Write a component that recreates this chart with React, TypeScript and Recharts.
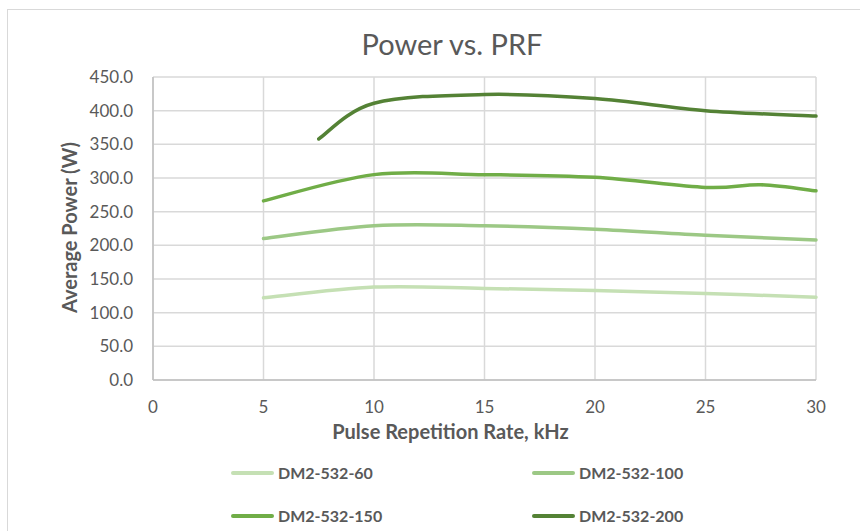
import { LineChart, Line, XAxis, YAxis, CartesianGrid, Legend } from "recharts";

// kHz values where readings were taken
const prf = [5, 7.5, 10, 15, 20, 25, 27.5, 30];

// average power in W, null where a model has no reading
const dm60 = [122, null, 138, 136, 133, 128.5, null, 123];
const dm100 = [210, null, 229, 229, 224, 215, null, 208];
const dm150 = [266, null, 305, 305, 301, 286, 290, 281];
const dm200 = [null, 358, 411, 424, 418, 400, null, 392];

const seriesNames = ["DM2-532-60", "DM2-532-100", "DM2-532-150", "DM2-532-200"];
const seriesColors = ["#c5e0b4", "#9cc885", "#70ad47", "#548235"];

const xTicks = [0, 5, 10, 15, 20, 25, 30];
const yTicks = [0, 50, 100, 150, 200, 250, 300, 350, 400, 450];

const chartData = prf.map((x, i) => ({
  prf: x,
  [seriesNames[0]]: dm60[i],
  [seriesNames[1]]: dm100[i],
  [seriesNames[2]]: dm150[i],
  [seriesNames[3]]: dm200[i],
}));

const FONT = "Lato, 'Open Sans', sans-serif";
const TEXT = "#595959";

// spreadsheet-style smoothed line (catmull-rom through every point)
function smoothCurve(context: any) {
  let pts: number[][] = [];
  return {
    areaStart() {},
    areaEnd() {},
    lineStart() {
      pts = [];
    },
    point(x: number, y: number) {
      pts.push([+x, +y]);
    },
    lineEnd() {
      const n = pts.length;
      if (!n) return;
      context.moveTo(pts[0][0], pts[0][1]);
      for (let i = 0; i < n - 1; i++) {
        const p0 = pts[Math.max(i - 1, 0)];
        const p1 = pts[i];
        const p2 = pts[i + 1];
        const p3 = pts[Math.min(i + 2, n - 1)];
        context.bezierCurveTo(
          p1[0] + (p2[0] - p0[0]) / 6,
          p1[1] + (p2[1] - p0[1]) / 6,
          p2[0] - (p3[0] - p1[0]) / 6,
          p2[1] - (p3[1] - p1[1]) / 6,
          p2[0],
          p2[1]
        );
      }
    },
  };
}

function XTitle(props: any) {
  const vb = props.viewBox || {};
  return (
    <text
      x={vb.x + vb.width / 2 - 34}
      y={vb.y + 59}
      textAnchor="middle"
      fill={TEXT}
      fontSize={20}
      fontWeight={700}
      fontFamily={FONT}
    >
      Pulse Repetition Rate, kHz
    </text>
  );
}

function YTitle(props: any) {
  const vb = props.viewBox || {};
  const cx = 77;
  const cy = vb.y + vb.height / 2 - 1;
  return (
    <text
      x={cx}
      y={cy}
      transform={`rotate(-90 ${cx} ${cy})`}
      textAnchor="middle"
      fill={TEXT}
      fontSize={20}
      fontWeight={700}
      fontFamily={FONT}
    >
      Average Power (W)
    </text>
  );
}

function LegendBox() {
  return (
    <div
      style={{
        display: "grid",
        gridTemplateColumns: "301px 301px",
        gridAutoRows: "43px",
        paddingLeft: 231,
        fontFamily: FONT,
      }}
    >
      {seriesNames.map((name, i) => (
        <div key={name} style={{ display: "flex", alignItems: "center" }}>
          <div
            style={{
              width: 43,
              height: 4,
              borderRadius: 2,
              background: seriesColors[i],
              marginRight: 4,
            }}
          />
          <span style={{ fontSize: 16, fontWeight: 700, color: TEXT }}>{name}</span>
        </div>
      ))}
    </div>
  );
}

export default function App() {
  return (
    <div
      style={{
        position: "fixed",
        left: 0,
        top: 0,
        width: 860,
        height: 531,
        overflow: "hidden",
        background: "#fff",
      }}
    >
      <div
        style={{
          position: "absolute",
          left: 7,
          top: 9,
          width: 920,
          height: 600,
          border: "1px solid #d9d9d9",
        }}
      />
      <div
        style={{
          position: "absolute",
          left: 0,
          right: 0,
          top: 26,
          textAlign: "center",
          paddingLeft: 44,
          fontFamily: FONT,
          fontSize: 29,
          color: TEXT,
        }}
      >
        Power vs. PRF
      </div>
      <div style={{ position: "absolute", left: 0, top: 0 }}>
        <LineChart
          width={860}
          height={531}
          data={chartData}
          margin={{ top: 77, right: 44, bottom: 5, left: 73 }}
        >
          <CartesianGrid stroke="#d9d9d9" strokeWidth={1.5} />
          <XAxis
            dataKey="prf"
            type="number"
            domain={[0, 30]}
            ticks={xTicks}
            tickLine={false}
            tickMargin={15}
            height={60}
            axisLine={{ stroke: "#bfbfbf", strokeWidth: 1.5 }}
            tick={{ fill: TEXT, fontSize: 17, fontFamily: FONT }}
            label={<XTitle />}
          />
          <YAxis
            type="number"
            domain={[0, 450]}
            ticks={yTicks}
            width={80}
            tickLine={false}
            tickMargin={14}
            axisLine={{ stroke: "#bfbfbf", strokeWidth: 1.5 }}
            tickFormatter={(v: number) => v.toFixed(1)}
            tick={{ fill: TEXT, fontSize: 17, fontFamily: FONT }}
            label={<YTitle />}
          />
          <Legend
            content={<LegendBox />}
            wrapperStyle={{ left: 0, top: 451, bottom: "auto", width: 860 }}
          />
          {seriesNames.map((name, i) => (
            <Line
              key={name}
              dataKey={name}
              type={smoothCurve as any}
              stroke={seriesColors[i]}
              strokeWidth={3.5}
              strokeLinecap="round"
              dot={false}
              activeDot={false}
              connectNulls
              isAnimationActive={false}
            />
          ))}
        </LineChart>
      </div>
    </div>
  );
}
